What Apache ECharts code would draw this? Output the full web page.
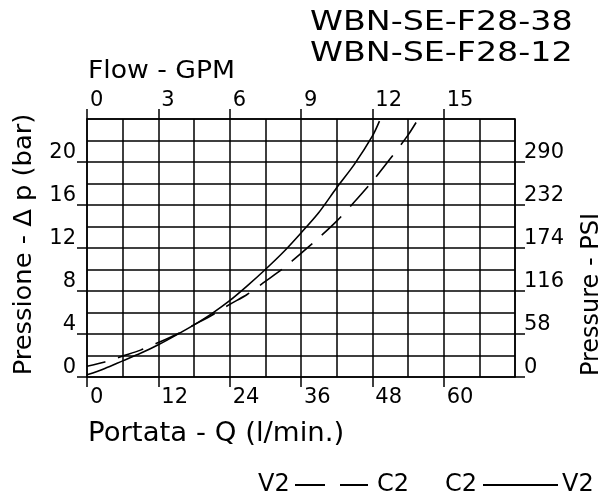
<!DOCTYPE html>
<html>
<head>
<meta charset="utf-8">
<script src="https://cdn.jsdelivr.net/npm/echarts@6/dist/echarts.min.js"></script>
<style>
html,body{margin:0;padding:0;background:#fff;}
#chart{width:602px;height:496px;}
</style>
</head>
<body>
<div id="chart"></div>
<script>
// Flow (l/min) and pressure drop (bar)
const solidFlow = [0, 3, 6, 9, 12, 15, 18, 21, 24, 27, 30, 33, 36, 39, 42, 45, 48, 49.2];
const solidBar  = [0.2, 0.8, 1.5, 2.2, 3.0, 3.9, 4.85, 5.9, 7.1, 8.5, 10.0, 11.6, 13.4, 15.3, 17.6, 19.8, 22.4, 23.8];
const dashFlow  = [0, 3, 6, 9, 12, 15, 18, 21, 24, 27, 30, 33, 36, 39, 42, 45, 48, 51, 54, 55.5];
const dashBar   = [1.0, 1.4, 1.95, 2.5, 3.2, 3.95, 4.85, 5.75, 6.75, 7.7, 8.9, 10.1, 11.5, 12.95, 14.5, 16.3, 18.2, 20.3, 22.5, 23.8];

const titles = ['WBN-SE-F28-38', 'WBN-SE-F28-12'];
const xNameBottom = 'Portata - Q (l/min.)';
const xNameTop = 'Flow - GPM';
const yNameLeft = 'Pressione - Δ p (bar)';
const yNameRight = 'Pressure - PSI';
const seriesNames = ['V2 → C2', 'C2 → V2'];

const lpmRange = [0, 72, 12];
const gpmRange = [0, 18, 3];
const barRange = [0, 24, 4];
const psiRange = [0, 348, 58];

const FONT = '"DejaVu Sans", sans-serif';
const black = '#000';
const lw = 1.5;

function pairs(xs, ys) { return xs.map((x, i) => [x, ys[i]]); }

const chart = echarts.init(document.getElementById('chart'), null, {renderer: 'canvas'});

const labelStyle = {color: black, fontFamily: FONT, fontSize: 21};

chart.setOption({
  backgroundColor: '#fff',
  animation: false,
  grid: {left: 87, right: 87, top: 119, bottom: 119, containLabel: false},
  xAxis: [
    {
      type: 'value', position: 'bottom', min: lpmRange[0], max: lpmRange[1], interval: lpmRange[2],
      axisLine: {show: true, onZero: false, lineStyle: {color: black, width: lw}},
      axisTick: {show: true, inside: false, length: 10, lineStyle: {color: black, width: lw}},
      axisLabel: Object.assign({showMaxLabel: false, align: 'left', margin: 10, padding: [0, 0, 0, 3]}, labelStyle),
      splitLine: {show: true, lineStyle: {color: black, width: lw}},
      minorTick: {show: false, splitNumber: 2},
      minorSplitLine: {show: true, lineStyle: {color: black, width: lw}}
    },
    {
      type: 'value', position: 'top', min: gpmRange[0], max: gpmRange[1], interval: gpmRange[2],
      axisLine: {show: true, onZero: false, lineStyle: {color: black, width: lw}},
      axisTick: {show: true, inside: false, length: 10, lineStyle: {color: black, width: lw}},
      axisLabel: Object.assign({showMaxLabel: false, align: 'left', margin: 8, padding: [0, 0, 0, 3]}, labelStyle),
      splitLine: {show: false}
    }
  ],
  yAxis: [
    {
      type: 'value', position: 'left', min: barRange[0], max: barRange[1], interval: barRange[2],
      axisLine: {show: true, onZero: false, lineStyle: {color: black, width: lw}},
      axisTick: {show: true, inside: false, length: 10, lineStyle: {color: black, width: lw}},
      axisLabel: Object.assign({showMaxLabel: false, showMinLabel: true, margin: 11, verticalAlign: 'bottom', lineHeight: 18}, labelStyle),
      splitLine: {show: true, lineStyle: {color: black, width: lw}},
      minorTick: {show: false, splitNumber: 2},
      minorSplitLine: {show: true, lineStyle: {color: black, width: lw}}
    },
    {
      type: 'value', position: 'right', min: psiRange[0], max: psiRange[1], interval: psiRange[2],
      axisLine: {show: true, onZero: false, lineStyle: {color: black, width: lw}},
      axisTick: {show: true, inside: false, length: 10, lineStyle: {color: black, width: lw}},
      axisLabel: Object.assign({showMaxLabel: false, showMinLabel: true, margin: 9, verticalAlign: 'bottom', lineHeight: 18}, labelStyle),
      splitLine: {show: false}
    }
  ],
  series: [
    {
      name: seriesNames[0], type: 'line', xAxisIndex: 0, yAxisIndex: 0,
      data: pairs(dashFlow, dashBar), symbol: 'none', smooth: 0.3,
      lineStyle: {color: black, width: 1.6, type: [27, 13], dashOffset: 8}
    },
    {
      name: seriesNames[1], type: 'line', xAxisIndex: 0, yAxisIndex: 0,
      data: pairs(solidFlow, solidBar), symbol: 'none', smooth: 0.3,
      lineStyle: {color: black, width: 1.6, type: 'solid'}
    }
  ],
  graphic: [
    {type: 'text', x: 310, y: 23, scaleX: 1.28, style: {text: titles[0], font: '26px ' + FONT, fill: black, align: 'left', verticalAlign: 'middle'}},
    {type: 'text', x: 310, y: 54, scaleX: 1.28, style: {text: titles[1], font: '26px ' + FONT, fill: black, align: 'left', verticalAlign: 'middle'}},
    {type: 'text', x: 88, y: 71.5, scaleX: 1.11, style: {text: xNameTop, font: '24px ' + FONT, fill: black, align: 'left', verticalAlign: 'middle'}},
    {type: 'text', x: 88, y: 434, scaleX: 1.06, style: {text: xNameBottom, font: '26px ' + FONT, fill: black, align: 'left', verticalAlign: 'middle'}},
    {type: 'text', x: 24, y: 244.5, rotation: Math.PI / 2, scaleX: 1.03, style: {text: yNameLeft, font: '25px ' + FONT, fill: black, align: 'center', verticalAlign: 'middle'}},
    {type: 'text', x: 592, y: 294.5, rotation: Math.PI / 2, style: {text: yNameRight, font: '24px ' + FONT, fill: black, align: 'center', verticalAlign: 'middle'}},
    // key
    {type: 'text', x: 258, y: 485, style: {text: 'V2', font: '24px ' + FONT, fill: black, align: 'left', verticalAlign: 'middle'}},
    {type: 'line', shape: {x1: 295, y1: 485, x2: 325, y2: 485}, style: {stroke: black, lineWidth: 2}},
    {type: 'line', shape: {x1: 340, y1: 485, x2: 368, y2: 485}, style: {stroke: black, lineWidth: 2}},
    {type: 'text', x: 377, y: 485, style: {text: 'C2', font: '24px ' + FONT, fill: black, align: 'left', verticalAlign: 'middle'}},
    {type: 'text', x: 445, y: 485, style: {text: 'C2', font: '24px ' + FONT, fill: black, align: 'left', verticalAlign: 'middle'}},
    {type: 'line', shape: {x1: 483, y1: 485, x2: 558, y2: 485}, style: {stroke: black, lineWidth: 2}},
    {type: 'text', x: 562, y: 485, style: {text: 'V2', font: '24px ' + FONT, fill: black, align: 'left', verticalAlign: 'middle'}}
  ]
});
</script>
</body>
</html>
